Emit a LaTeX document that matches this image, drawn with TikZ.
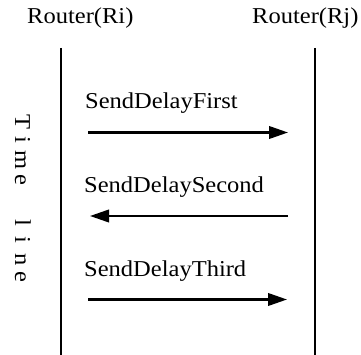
\documentclass[tikz,border=0pt]{standalone}
\usepackage{fontspec}
\setmainfont{Liberation Serif}[FakeStretch=1.08]
\usetikzlibrary{arrows.meta}
\begin{document}
\begin{tikzpicture}[x=1pt,y=-1pt,
  lbl/.style={anchor=base west,inner sep=0pt,font=\fontsize{22.7}{27}\selectfont},
  lifeline/.style={line width=2pt},
  msg/.style={line width=2.3pt,-{Triangle[length=19pt,width=12.5pt]}}]
\useasboundingbox (0,0) rectangle (361,355);
\node[lbl] (ri) at (27,23.3) {Router(Ri)};
\node[lbl] (rj) at (252,23.3) {Router(Rj)};
\coordinate (ltop) at (61,48);
\coordinate (lbot) at (61,355);
\coordinate (rtop) at (315,48);
\coordinate (rbot) at (315,355);
\draw[lifeline] (ltop) -- (lbot);
\draw[lifeline] (rtop) -- (rbot);
\node[lbl] (m1) at (85,108.3) {SendDelayFirst};
\node[lbl] (m2) at (84,192.5) {SendDelaySecond};
\node[lbl] (m3) at (84,276.5) {SendDelayThird};
\coordinate (a1s) at (88,132.5);
\coordinate (a1e) at (288,132.5);
\coordinate (a2s) at (288,216);
\coordinate (a2e) at (90,216);
\coordinate (a3s) at (88,299.5);
\coordinate (a3e) at (287,299.5);
\draw[msg] (a1s) -- (a1e);
\draw[msg] (a2s) -- (a2e);
\draw[msg] (a3s) -- (a3e);
\node[anchor=base,inner sep=0pt,rotate=-90,font=\fontsize{22.7}{27}\selectfont] (tl) at (15,198.5)
  {T\hspace{7pt}i\hspace{7pt}m\hspace{5pt}e\hspace{34pt}l\hspace{10pt}i\hspace{10pt}n\hspace{6pt}e};
\end{tikzpicture}
\end{document}
